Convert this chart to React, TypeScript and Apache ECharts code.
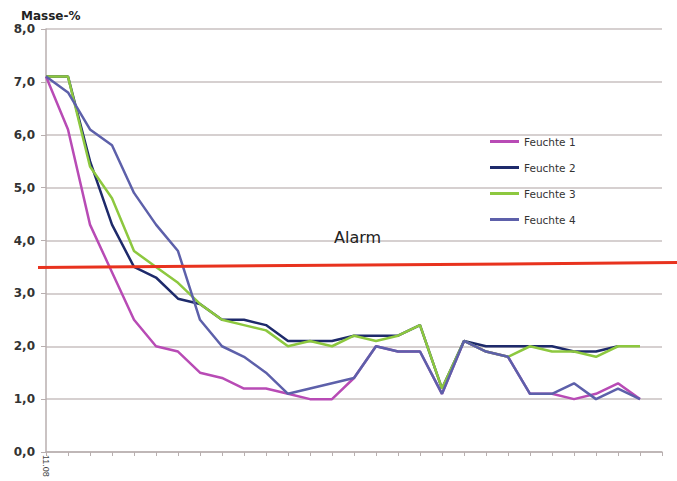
import React, { useEffect, useRef } from "react";
import * as echarts from "echarts";

const categories: string[] = [
  "11.08", "", "", "", "", "", "", "", "", "", "", "", "", "", "",
  "", "", "", "", "", "", "", "", "", "", "", "", "", "",
];

const feuchte1: (number | null)[] = [
  7.1, 6.1, 4.3, 3.4, 2.5, 2.0, 1.9, 1.5, 1.4, 1.2, 1.2, 1.1, 1.0, 1.0,
  1.4, 2.0, 1.9, 1.9, 1.1, 2.1, 1.9, 1.8, 1.1, 1.1, 1.0, 1.1, 1.3, 1.0, null,
];
const feuchte2: (number | null)[] = [
  7.1, 7.1, 5.5, 4.3, 3.5, 3.3, 2.9, 2.8, 2.5, 2.5, 2.4, 2.1, 2.1, 2.1,
  2.2, 2.2, 2.2, 2.4, 1.2, 2.1, 2.0, 2.0, 2.0, 2.0, 1.9, 1.9, 2.0, null, null,
];
const feuchte3: (number | null)[] = [
  7.1, 7.1, 5.4, 4.8, 3.8, 3.5, 3.2, 2.8, 2.5, 2.4, 2.3, 2.0, 2.1, 2.0,
  2.2, 2.1, 2.2, 2.4, 1.2, 2.1, 1.9, 1.8, 2.0, 1.9, 1.9, 1.8, 2.0, 2.0, null,
];
const feuchte4: (number | null)[] = [
  7.1, 6.8, 6.1, 5.8, 4.9, 4.3, 3.8, 2.5, 2.0, 1.8, 1.5, 1.1, 1.2, 1.3,
  1.4, 2.0, 1.9, 1.9, 1.1, 2.1, 1.9, 1.8, 1.1, 1.1, 1.3, 1.0, 1.2, 1.0, null,
];

const seriesNames = ["Feuchte 1", "Feuchte 2", "Feuchte 3", "Feuchte 4"];
const seriesColors = ["#B84BB5", "#1E2A6B", "#8DC83F", "#5D60AA"];
const alarmStart = 3.49;
const alarmEnd = 3.58;

export default function App() {
  const ref = useRef<HTMLDivElement>(null);
  useEffect(() => {
    if (!ref.current) return;
    const chart = echarts.init(ref.current, null, { renderer: "svg" });
    const values = [feuchte1, feuchte2, feuchte3, feuchte4];
    const font = "DejaVu Sans";
    chart.setOption({
      animation: false,
      backgroundColor: "#ffffff",
      title: {
        text: "Masse-%",
        left: 19,
        top: 8,
        padding: 2,
        textStyle: { fontFamily: font, fontSize: 12, fontWeight: "bold", color: "#222" },
      },
      legend: {
        data: seriesNames,
        orient: "vertical",
        left: 485,
        top: 131,
        itemWidth: 29,
        itemHeight: 3,
        itemGap: 15,
        icon: "rect",
        textStyle: { fontFamily: font, fontSize: 10.5, color: "#333" },
      },
      grid: { left: 46, right: 15, top: 29, bottom: 29, containLabel: false },
      xAxis: {
        type: "category",
        data: categories,
        boundaryGap: false,
        axisLine: { lineStyle: { color: "#B8AFAF", width: 1.5 } },
        axisTick: { show: true, interval: 0, length: 4, lineStyle: { color: "#B8AFAF" } },
        axisLabel: {
          interval: 0,
          rotate: -90,
          margin: 3,
          fontFamily: "Liberation Sans",
          fontSize: 9,
          color: "#444",
        },
        splitLine: { show: false },
      },
      yAxis: {
        type: "value",
        min: 0,
        max: 8,
        interval: 1,
        axisLine: { show: true, lineStyle: { color: "#B8AFAF", width: 1.5 } },
        axisTick: { show: true, length: 5, lineStyle: { color: "#B8AFAF" } },
        axisLabel: {
          margin: 11,
          fontFamily: font,
          fontSize: 12,
          fontWeight: "bold",
          color: "#333",
          formatter: (v: number) => v.toFixed(1).replace(".", ","),
        },
        splitLine: { lineStyle: { color: "#C9C1C1", width: 1.5 } },
      },
      series: values.map((d, i) => ({
        name: seriesNames[i],
        type: "line",
        data: d,
        symbol: "none",
        color: seriesColors[i],
        lineStyle: { width: 2.5, color: seriesColors[i] },
        connectNulls: false,
      })),
    });

    const p0 = chart.convertToPixel({ gridIndex: 0 }, [0, alarmStart]) as number[];
    const p1 = chart.convertToPixel(
      { gridIndex: 0 },
      [categories.length - 1, alarmEnd]
    ) as number[];
    const slope = (p1[1] - p0[1]) / (p1[0] - p0[0]);
    const x0 = p0[0] - 8;
    const x1 = 677;
    chart.setOption({
      graphic: [
        {
          type: "line",
          silent: true,
          z: 10,
          shape: {
            x1: x0,
            y1: p0[1] + slope * (x0 - p0[0]),
            x2: x1,
            y2: p0[1] + slope * (x1 - p0[0]),
          },
          style: { stroke: "#E8321E", lineWidth: 3 },
        },
        {
          type: "text",
          left: 334,
          top: 229,
          style: { text: "Alarm", fontFamily: font, fontSize: 16, fill: "#222" },
        },
      ],
    });
    return () => chart.dispose();
  }, []);
  return (
    <div
      ref={ref}
      style={{ position: "absolute", left: 0, top: 0, width: 677, height: 481 }}
    />
  );
}
